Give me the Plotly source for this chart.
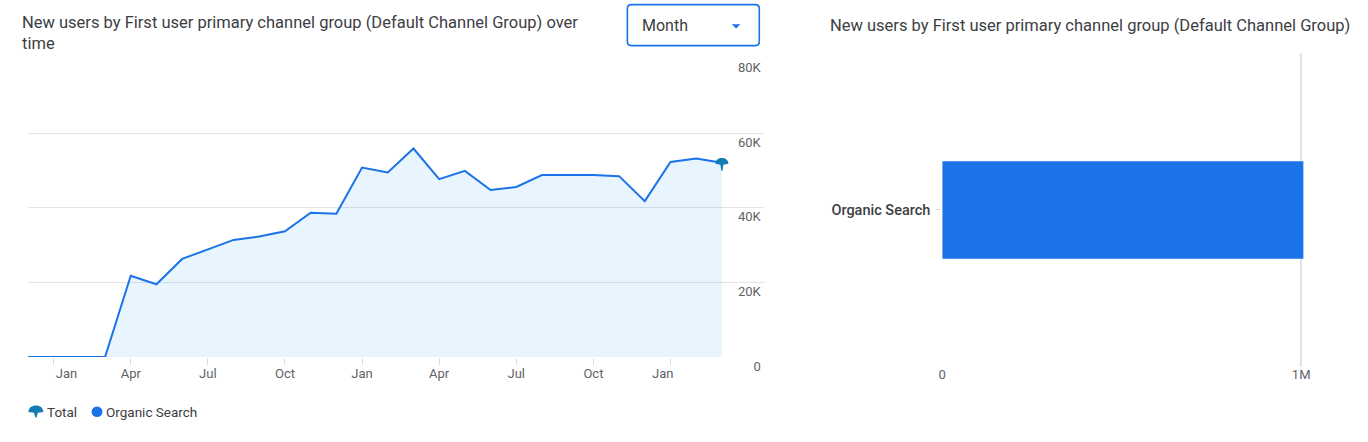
import plotly.graph_objects as go

# ---------------- data ----------------
months = ['Dec', 'Jan', 'Feb', 'Mar', 'Apr', 'May', 'Jun', 'Jul', 'Aug', 'Sep', 'Oct', 'Nov',
          'Dec', 'Jan', 'Feb', 'Mar', 'Apr', 'May', 'Jun', 'Jul', 'Aug', 'Sep', 'Oct', 'Nov',
          'Dec', 'Jan', 'Feb', 'Mar']
month_index = list(range(len(months)))
new_users = [0, 0, 0, 0, 21800, 19500, 26300, 28800, 31400, 32300, 33700, 38700,
             38400, 50800, 49500, 55900, 47700, 49900, 44800, 45600, 48800, 48800,
             48800, 48500, 41800, 52300, 53200, 52100]

x_tick_marks = [1, 4, 7, 10, 13, 16, 19, 22, 25]
x_label_pos = [1.5, 4, 7, 10, 13, 16, 19, 22, 24.7]
x_label_text = ['Jan', 'Apr', 'Jul', 'Oct', 'Jan', 'Apr', 'Jul', 'Oct', 'Jan']
y_tick_vals = [0, 20000, 40000, 60000, 80000]
y_tick_text = ['0', '20K', '40K', '60K', '80K']

channels = ['Organic Search']
channel_totals = [1006000]
bar_tick_vals = [0, 1000000]
bar_tick_text = ['0', '1M']

# ---------------- helpers ----------------
W, H = 1368, 442
FONT = 'Roboto'
BLUE = '#1a73e8'
TEAL = '#137cb4'
GRID = '#e3e3e3'
LABEL = '#5f6368'
DARK = '#3c4043'


def fx(x):
    return x / W


def fy(y):
    return 1 - y / H


def P(x, y):
    return f'{fx(x):.5f},{fy(y):.5f}'


fig = go.Figure()

fig.add_trace(go.Scatter(
    x=month_index, y=new_users, mode='lines', name='Organic Search',
    line=dict(color=BLUE, width=2), fill='tozeroy',
    fillcolor='rgba(66,165,245,0.12)', xaxis='x', yaxis='y',
    showlegend=False, hoverinfo='skip'))

fig.add_trace(go.Bar(
    x=channel_totals, y=channels, orientation='h', name='Organic Search',
    marker=dict(color=BLUE, line=dict(width=0)), width=0.31,
    xaxis='x2', yaxis='y2', showlegend=False, hoverinfo='skip'))

# left plot geometry (pixels)
L0, L_last, L1 = 24, 720, 762
step = (L_last - L0) / (len(months) - 1)
x_max = (len(months) - 1) + (L1 - L_last) / step

R0, R1 = 941, 1320
x2_max = 1e6 * (R1 - R0) / 360.0

shapes = []
# Month dropdown box
r = 4
bx0, bx1, by0, by1 = 625.2, 757.5, 4.8, 47.5
box = (f'M {P(bx0 + r, by0)} L {P(bx1 - r, by0)} Q {P(bx1, by0)} {P(bx1, by0 + r)} '
       f'L {P(bx1, by1 - r)} Q {P(bx1, by1)} {P(bx1 - r, by1)} '
       f'L {P(bx0 + r, by1)} Q {P(bx0, by1)} {P(bx0, by1 - r)} '
       f'L {P(bx0, by0 + r)} Q {P(bx0, by0)} {P(bx0 + r, by0)} Z')
shapes.append(dict(type='path', xref='paper', yref='paper', path=box,
                   line=dict(color=BLUE, width=1.6), fillcolor='rgba(0,0,0,0)'))
shapes.append(dict(type='path', xref='paper', yref='paper',
                   path=f'M {P(729.8, 25.2)} L {P(738.6, 25.2)} L {P(734.2, 29.6)} Z',
                   line=dict(width=0), fillcolor=BLUE))

# legend icons
pin = (f'M {P(24.5, 428.5)} C {P(24.5, 419.5)} {P(39.5, 419.5)} {P(39.5, 428.5)} '
       f'L {P(34, 429.3)} L {P(32.6, 434.3)} L {P(31.4, 434.3)} L {P(30, 429.3)} Z')
shapes.append(dict(type='path', xref='paper', yref='paper', path=pin,
                   line=dict(width=0), fillcolor=TEAL))
shapes.append(dict(type='circle', xref='paper', yref='paper',
                   x0=fx(87.8), x1=fx(98.8), y0=fy(433.8), y1=fy(422.8),
                   line=dict(width=0), fillcolor=BLUE))

# "Total" end marker anchored to the last data point
shapes.append(dict(type='path', xref='x', yref='y', xsizemode='pixel', ysizemode='pixel',
                   xanchor=month_index[-1], yanchor=new_users[-1],
                   path='M -6.5,-1 C -6.5,6.5 6.5,6.5 6.5,-1 L 1.5,-2 L 0.6,-8 L -0.6,-8 L -1.5,-2 Z',
                   line=dict(width=0), fillcolor=TEAL))

annotations = [
    dict(text='New users by First user primary channel group (Default Channel Group) over',
         x=fx(16), y=fy(23), xref='paper', yref='paper', xanchor='left', yanchor='middle',
         showarrow=False, font=dict(family=FONT, size=16.5, color=DARK)),
    dict(text='time', x=fx(16), y=fy(45), xref='paper', yref='paper', xanchor='left',
         yanchor='middle', showarrow=False, font=dict(family=FONT, size=16.5, color=DARK)),
    dict(text='New users by First user primary channel group (Default Channel Group)',
         x=fx(1352), y=fy(26), xref='paper', yref='paper', xanchor='right', yanchor='middle',
         showarrow=False, font=dict(family=FONT, size=16.5, color=DARK)),
    dict(text='Month', x=fx(638), y=fy(26), xref='paper', yref='paper', xanchor='left',
         yanchor='middle', showarrow=False, font=dict(family=FONT, size=16, color=DARK)),
    dict(text='Total', x=fx(41.5), y=fy(428), xref='paper', yref='paper', xanchor='left',
         yanchor='middle', showarrow=False, font=dict(family=FONT, size=13.5, color=DARK)),
    dict(text='Organic Search', x=fx(100.5), y=fy(428), xref='paper', yref='paper',
         xanchor='left', yanchor='middle', showarrow=False,
         font=dict(family=FONT, size=13.5, color=DARK)),
]

fig.update_layout(
    width=W, height=H, margin=dict(l=0, r=0, t=0, b=0),
    paper_bgcolor='white', plot_bgcolor='white',
    font=dict(family=FONT, size=13, color=LABEL),
    showlegend=False,
    xaxis=dict(domain=[fx(L0), fx(L1)], range=[0, x_max], anchor='y',
               tickmode='array', tickvals=x_label_pos, ticktext=x_label_text,
               ticks='', showgrid=False, zeroline=False, showline=False,
               ticklabelstandoff=7,
               tickfont=dict(family=FONT, size=13, color=LABEL),
               minor=dict(tickmode='array', tickvals=x_tick_marks, ticks='outside',
                          ticklen=7, tickcolor='#dadce0', tickwidth=1, showgrid=False)),
    yaxis=dict(domain=[fy(371.3), fy(61)], range=[0, 80000], anchor='x', side='right',
               tickmode='array', tickvals=y_tick_vals, ticktext=y_tick_text,
               ticklabelposition='inside bottom', ticklabeloverflow='allow',
               ticks='', showgrid=True, gridcolor=GRID, gridwidth=1,
               zeroline=False, showline=False,
               tickfont=dict(family=FONT, size=13, color=LABEL)),
    xaxis2=dict(domain=[fx(R0), fx(R1)], range=[0, x2_max], anchor='y2',
                tickmode='array', tickvals=bar_tick_vals, ticktext=bar_tick_text,
                ticks='', showgrid=True, gridcolor=GRID, gridwidth=2,
                zeroline=False, showline=False, ticklabelstandoff=-2,
                tickfont=dict(family=FONT, size=13, color=LABEL)),
    yaxis2=dict(domain=[fy(381.7), fy(55)], anchor='x2', type='category',
                range=[-0.5, 0.5], ticks='outside', ticklen=5, tickcolor='#dadce0',
                ticklabelstandoff=3,
                showgrid=False, zeroline=False, showline=False,
                tickfont=dict(family=FONT, size=14.5, color=DARK, weight=500)),
    shapes=shapes, annotations=annotations,
)

fig.write_html('out.html')
